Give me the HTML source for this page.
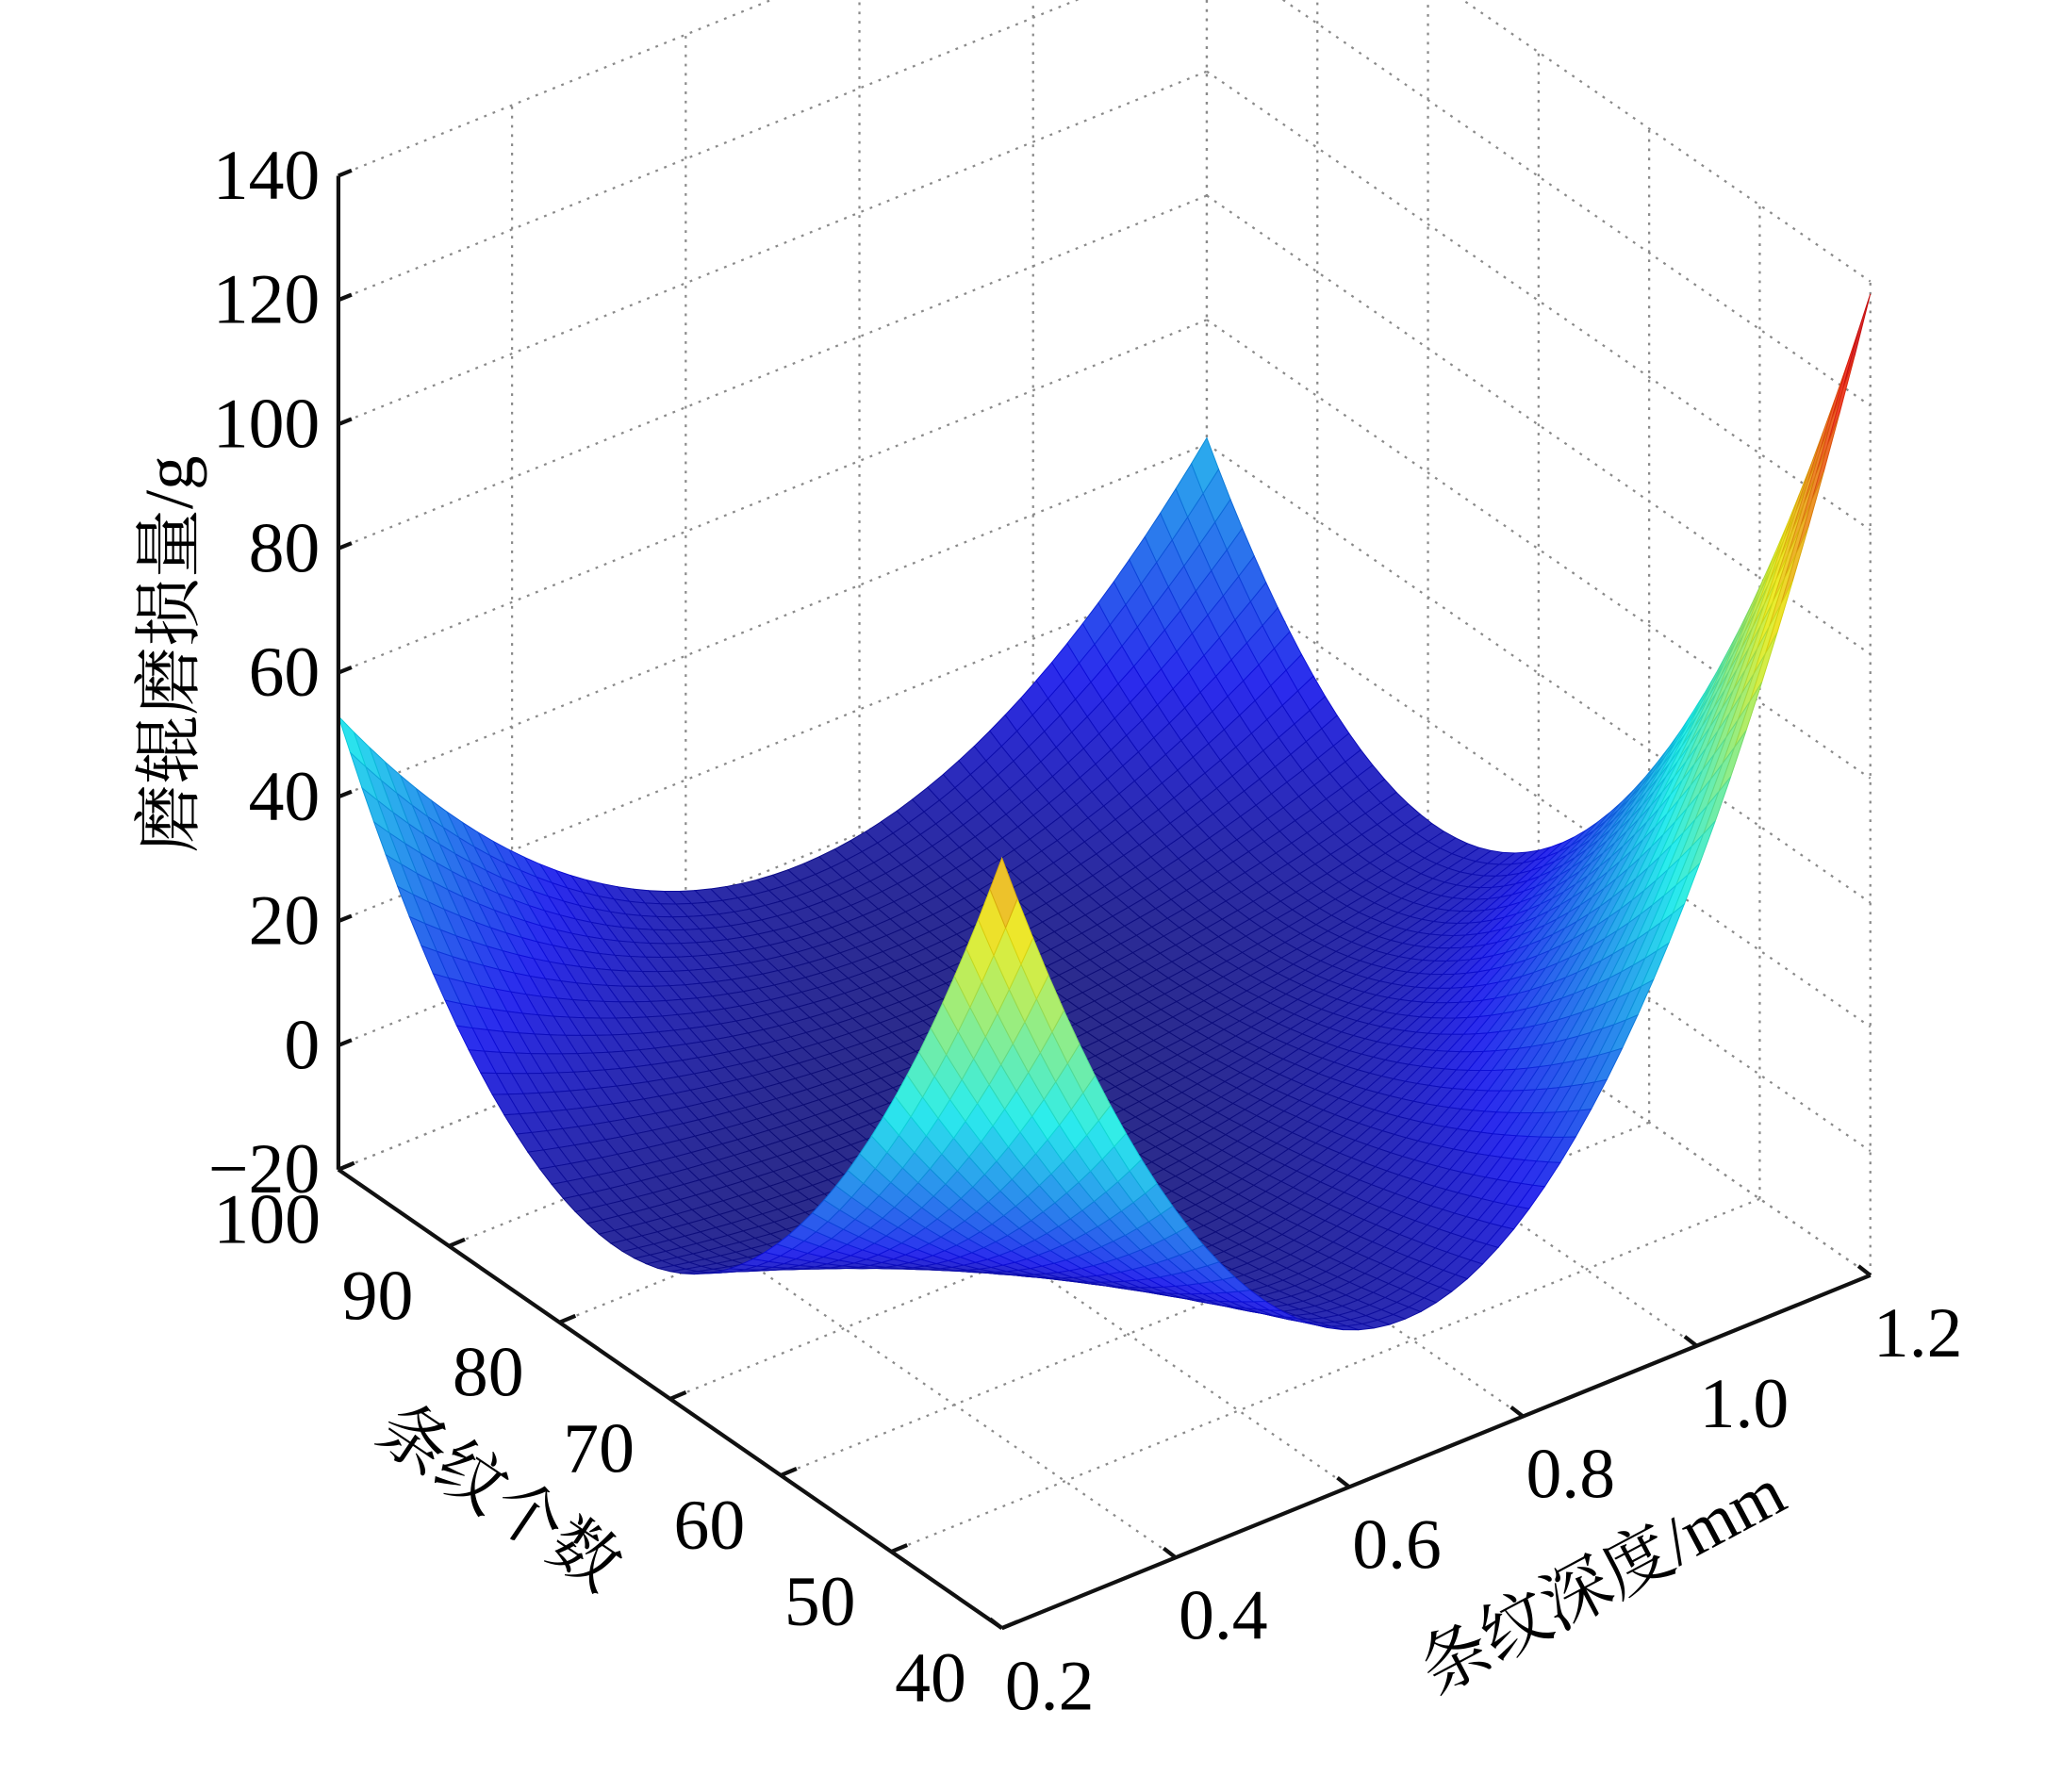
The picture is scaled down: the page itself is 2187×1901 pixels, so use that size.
<!DOCTYPE html>
<html><head><meta charset="utf-8"><style>
html,body{margin:0;padding:0;background:#fff;}
svg{display:block;}
text{font-family:"Liberation Serif","Noto Serif CJK SC",serif;fill:#000;}
</style></head><body>
<svg id="chart" width="2187" height="1901" viewBox="0 0 1560 1356" preserveAspectRatio="none" xmlns="http://www.w3.org/2000/svg">
<g id="grid"></g>
<g id="surface"></g>
<g id="axes"></g>
</svg>
<script>
const depthTicks=[0.2,0.4,0.6,0.8,1.0,1.2];
const depthLabels=["0.2","0.4","0.6","0.8","1.0","1.2"];
const countTicks=[40,50,60,70,80,90,100];
const countLabels=["40","50","60","70","80","90","100"];
const zTicks=[-20,0,20,40,60,80,100,120,140];
const zLabels=["\u221220","0","20","40","60","80","100","120","140"];
// surface corner values: [d=0.2,n=100],[d=1.2,n=100],[d=0.2,n=40],[d=1.2,n=40]
const cornerValues=[53,41,104,138];
// dip strengths: depth dip at n=100, depth dip extra at n=40, count dip, centre correction
const dipValues=[48,69,78,71];
const colorRange=[-5,145];

const NS="http://www.w3.org/2000/svg";
const P0=[256,885],EX=[657,-267],EY=[502,347],EZ=[0,-752];
function uOf(d){return (d-0.2)/1.0;}
function vOf(n){return (100-n)/60;}
function wOf(z){return (z+20)/160;}
function proj(u,v,w){return [P0[0]+u*EX[0]+v*EY[0]+w*EZ[0],P0[1]+u*EX[1]+v*EY[1]+w*EZ[1]];}
function zAt(u,v){
  const B=cornerValues[0]*(1-u)*(1-v)+cornerValues[1]*u*(1-v)+cornerValues[2]*(1-u)*v+cornerValues[3]*u*v;
  const a=4*u*(1-u),b=4*v*(1-v);
  return B-(dipValues[0]+dipValues[1]*v)*a-dipValues[2]*b+dipValues[3]*a*b;
}
function jet(t){t=Math.max(0,Math.min(1,t));const c=x=>Math.max(0,Math.min(1,1.5-Math.abs(x)));
  return [c(4*t-3),c(4*t-2),c(4*t-1)];}
function mk(tag,attrs,parent){const e=document.createElementNS(NS,tag);for(const k in attrs)e.setAttribute(k,attrs[k]);parent.appendChild(e);return e;}
const grid=document.getElementById('grid'),surf=document.getElementById('surface'),axes=document.getElementById('axes');
function gl(a,b){const l=mk('line',{x1:a[0],y1:a[1],x2:b[0],y2:b[1],stroke:'#8a8a8a','stroke-width':1.6,'stroke-dasharray':'2 5'},grid);
  
  }
zTicks.forEach(z=>{const w=wOf(z);gl(proj(0,0,w),proj(1,0,w));gl(proj(1,0,w),proj(1,1,w));});
depthTicks.forEach(d=>{const u=uOf(d);gl(proj(u,0,0),proj(u,0,1));gl(proj(u,0,0),proj(u,1,0));});
countTicks.forEach(n=>{const v=vOf(n);gl(proj(1,v,0),proj(1,v,1));gl(proj(0,v,0),proj(1,v,0));});
const N=56,cells=[];
for(let i=0;i<N;i++)for(let j=0;j<N;j++){
  const u0=i/N,u1=(i+1)/N,v0=j/N,v1=(j+1)/N;
  const zs=[zAt(u0,v0),zAt(u1,v0),zAt(u1,v1),zAt(u0,v1)];
  const pts=[proj(u0,v0,wOf(zs[0])),proj(u1,v0,wOf(zs[1])),proj(u1,v1,wOf(zs[2])),proj(u0,v1,wOf(zs[3]))];
  const zm=(zs[0]+zs[1]+zs[2]+zs[3])/4;
  cells.push({pts,zm,key:(u0+u1)/2-(v0+v1)/2});
}
cells.sort((a,b)=>b.key-a.key);
cells.forEach(c=>{
  const col=jet((c.zm-colorRange[0])/(colorRange[1]-colorRange[0]));
  const f=col.map(x=>Math.round(255*(x*0.76+0.17)));
  const s=col.map(x=>Math.round(255*(x*0.8+0.05)));
  const p=mk('polygon',{points:c.pts.map(p=>p[0].toFixed(1)+','+p[1].toFixed(1)).join(' '),fill:`rgb(${f})`,stroke:`rgb(${s})`,'stroke-width':0.7},surf);
  
  
});
function al(a,b,name){const l=mk('line',{x1:a[0],y1:a[1],x2:b[0],y2:b[1],stroke:'#111','stroke-width':3},axes);
  
  }
al(proj(0,0,0),proj(0,0,1),'z-axis-line');
al(proj(0,0,0),proj(0,1,0),'count-axis-line');
al(proj(0,1,0),proj(1,1,0),'depth-axis-line');
function tx(x,y,s,anchor,name,size){const t=mk('text',{x:x,y:y,'text-anchor':anchor,'font-size':size||54,'dominant-baseline':'central'},axes);t.textContent=s;
  
  return t;}
zTicks.forEach((z,k)=>{const p=proj(0,0,wOf(z));al(p,[p[0]+10,p[1]-4],'z-tick');tx(p[0]-14,p[1],zLabels[k],'end','z-tick-label');});
countTicks.forEach((n,k)=>{const p=proj(0,vOf(n),0);al(p,[p[0]+12,p[1]-5],'count-tick');tx(p[0]-54,p[1]+38,countLabels[k],'middle','count-tick-label');});
depthTicks.forEach((d,k)=>{const p=proj(uOf(d),1,0);al(p,[p[0]-9,p[1]-7],'depth-tick');tx(p[0]+36,p[1]+44,depthLabels[k],'middle','depth-tick-label');});
let t=tx(0,0,'磨辊磨损量/g','middle','z-axis-title',52);t.setAttribute('transform','translate(128,495) rotate(-90)');
t=tx(0,0,'条纹个数','middle','count-axis-title',52);t.setAttribute('transform','translate(378,1133) rotate(34)');
t=tx(0,0,'条纹深度/mm','middle','depth-axis-title',52);t.setAttribute('transform','translate(1212,1196) rotate(-28)');
</script>
</body></html>
